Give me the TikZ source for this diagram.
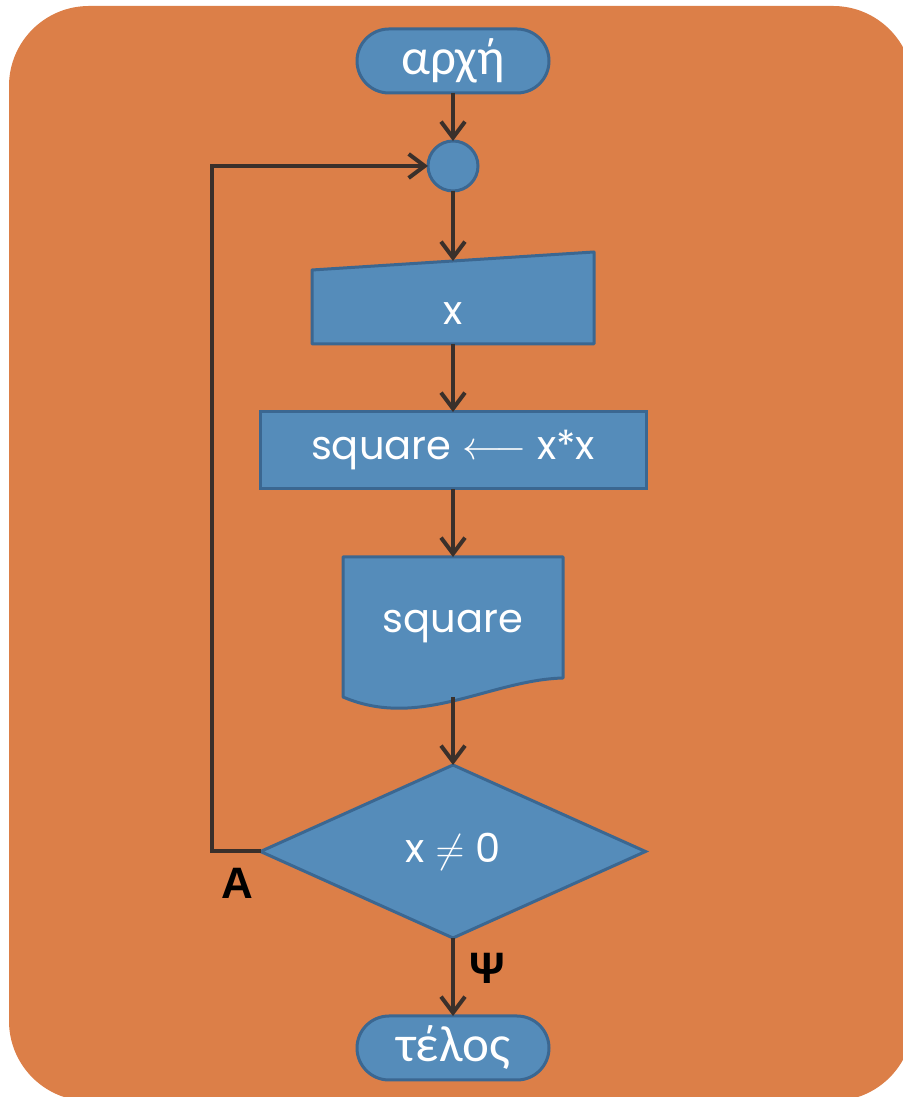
\documentclass[tikz,border=0pt]{standalone}
\usepackage{fix-cm}
\usepackage{fontspec}
\setmainfont{Poppins}
\newfontfamily\greekfont{Carlito}
\newfontfamily\lblfont{Liberation Sans}
\usetikzlibrary{positioning,shapes.geometric,arrows.meta}
\definecolor{bgorange}{HTML}{DC7F48}
\definecolor{boxfill}{HTML}{558CBA}
\definecolor{boxline}{HTML}{3B6791}
\definecolor{flowline}{HTML}{3A302B}
\pgfdeclarelayer{paper}
\pgfdeclarelayer{shapes}
\pgfsetlayers{paper,shapes,main}

\begin{document}
\begin{tikzpicture}[x=1pt,y=1pt,
	box/.style={draw=boxline,fill=boxfill,line width=3pt,text=white,inner sep=0pt,outer sep=0pt,font=\fontsize{40}{42}\selectfont},
	term/.style={box,rounded corners=32pt,minimum width=192pt,minimum height=64pt,font=\greekfont\fontsize{51}{53}\selectfont},
	plain/.style={box,draw=none,fill=none},
	outline/.style={draw=boxline,fill=boxfill,line width=3pt,line join=round},
	flow/.style={draw=flowline,line width=4pt,-{Straight Barb[length=16pt,width=24pt]}},
	lbl/.style={font=\lblfont\bfseries\fontsize{44}{46}\selectfont}]
	\useasboundingbox (0,0) rectangle (902,1097);
	\begin{pgfonlayer}{paper}
		\fill[bgorange,rounded corners=80pt] (9,-4) rectangle (913,1091);
	\end{pgfonlayer}
	
	\node[term] (start) at (453,1036) {αρχή};
	\node[box,circle,minimum size=50pt,below=48pt of start] (join) {};
	\node[plain,minimum width=282pt,minimum height=74pt,below=79pt of join] (input) {\raisebox{-7pt}[\height][0pt]{x}};
	\node[box,minimum width=386pt,minimum height=77pt,below=68pt of input] (assign) {square $\longleftarrow$ x*x};
	\node[plain,minimum width=220pt,minimum height=140pt,below=68pt of assign] (print) {square};
	\node[box,diamond,minimum width=385pt,minimum height=173pt,below=68pt of print] (cond) {x $\neq$ 0};
	\node[term,below=78pt of cond] (stop) {τέλος};
	
	\begin{pgfonlayer}{shapes}
		\path[outline] (input.north west) -- ([yshift=18pt]input.north east) -- (input.south east) -- (input.south west) -- cycle;
		\path[outline] (print.north west) -- (print.north east) -- ([yshift=19pt]print.south east) .. controls +(-73,-2) and +(77,-33) .. (print.south west) -- cycle;
	\end{pgfonlayer}
	
	\draw[flow] (start) -- (join);
	\draw[flow] (join) -- ([yshift=9pt]input.north);
	\draw[flow] (input) -- (assign);
	\draw[flow] (assign) -- (print);
	\draw[flow] (print) -- (cond);
	\draw[flow] (cond) -- (stop);
	\draw[flow] (cond.west) -- ++(-49,0) |- (join);
	
	\node[lbl,xshift=-23pt,yshift=-32pt] (no) at (cond.west) {A};
	\node[lbl,xshift=34pt,yshift=-30pt] (yes) at (cond.south) {Ψ};
\end{tikzpicture}
\end{document}
